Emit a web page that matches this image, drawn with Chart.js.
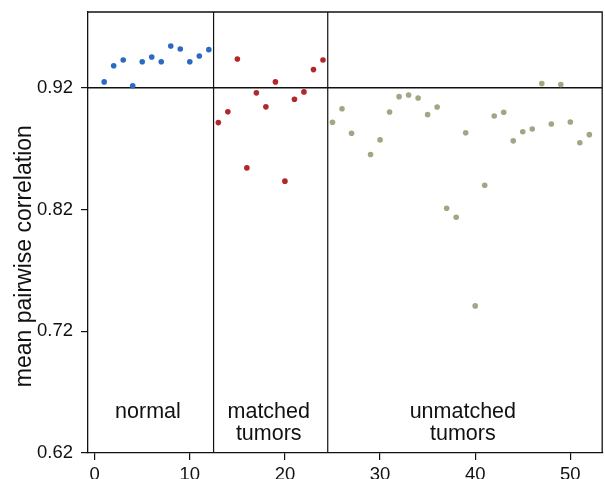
<!DOCTYPE html>
<html>
<head>
<meta charset="utf-8">
<script src="https://cdn.jsdelivr.net/npm/chart.js@4.4.1/dist/chart.umd.min.js"></script>
<style>
    html, body { margin: 0; padding: 0; background: #fff; }
    #wrap { width: 605px; height: 479px; position: relative; }
</style>
</head>
<body>
<div id="wrap"><canvas id="corrChart"></canvas></div>
<script>
// sample values (x = sample number)
var normalStart = 1;
var normalValues = [0.9247, 0.9380, 0.9427, 0.9216, 0.9413, 0.9452, 0.9413, 0.9542, 0.9517, 0.9413, 0.9460, 0.9512];

var matchedStart = 13;
var matchedValues = [0.8913, 0.9001, 0.9435, 0.8541, 0.9157, 0.9042, 0.9247, 0.8432, 0.9105, 0.9165, 0.9348, 0.9427];

var unmatchedStart = 25;
var unmatchedValues = [0.8916, 0.9027, 0.8826, null, 0.8651, 0.8771, 0.9000, 0.9126, 0.9140, 0.9115,
    0.8978, 0.9041, 0.8210, 0.8136, 0.8830, 0.7408, 0.8398, 0.8967, 0.8998, 0.8763,
    0.8838, 0.8860, 0.9233, 0.8901, 0.9225, 0.8918, 0.8748, 0.8814];

var xTicks = [0, 10, 20, 30, 40, 50];
var yTicks = [0.62, 0.72, 0.82, 0.92];
var groupBreaks = [12.5, 24.5];
var refLine = 0.92;
var groupNames = [['normal'], ['matched', 'tumors'], ['unmatched', 'tumors']];
var groupCenters = [5.6, 18.3, 38.7];
var yTitle = 'mean pairwise correlation';

function toPoints(start, values) {
    var pts = [];
    values.forEach(function (v, i) {
        if (v !== null) pts.push({ x: start + i, y: v });
    });
    return pts;
}

//-------------
//- FRAME, DIVIDERS AND GROUP LABELS -
//-------------
var framePlugin = {
    id: 'frame',
    beforeDatasetsDraw: function (chart) {
        var ctx = chart.ctx;
        var area = chart.chartArea;
        var xs = chart.scales.x;
        var ys = chart.scales.y;
        ctx.save();
        ctx.strokeStyle = '#111';

        // top and right border
        ctx.lineWidth = 1.3;
        ctx.beginPath();
        ctx.moveTo(area.left, area.top);
        ctx.lineTo(area.right, area.top);
        ctx.lineTo(area.right, area.bottom);
        ctx.stroke();

        // group dividers
        ctx.lineWidth = 1.2;
        groupBreaks.forEach(function (b) {
            var px = xs.getPixelForValue(b);
            ctx.beginPath();
            ctx.moveTo(px, area.top);
            ctx.lineTo(px, area.bottom);
            ctx.stroke();
        });

        // reference line
        ctx.lineWidth = 1.5;
        var py = ys.getPixelForValue(refLine);
        ctx.beginPath();
        ctx.moveTo(area.left, py);
        ctx.lineTo(area.right, py);
        ctx.stroke();

        // group names
        ctx.fillStyle = '#111';
        ctx.font = '21.5px "Liberation Sans", Arial, sans-serif';
        ctx.textAlign = 'center';
        ctx.textBaseline = 'alphabetic';
        var line1 = ys.getPixelForValue(0.6487);
        groupNames.forEach(function (lines, g) {
            var cx = xs.getPixelForValue(groupCenters[g]);
            lines.forEach(function (t, k) {
                ctx.fillText(t, cx, line1 + k * 21.5);
            });
        });

        // y axis title (sits a bit below the middle of the axis in the figure)
        ctx.save();
        ctx.translate(31, ys.getPixelForValue(0.7816));
        ctx.rotate(-Math.PI / 2);
        ctx.font = '23px "Liberation Sans", Arial, sans-serif';
        ctx.fillText(yTitle, 0, 0);
        ctx.restore();

        ctx.restore();
    }
};

//-------------
//- SCATTER CHART -
//-------------
var ctx = document.getElementById('corrChart').getContext('2d');

var scatterData = {
    datasets: [
        {
            label: 'normal',
            data: toPoints(normalStart, normalValues),
            backgroundColor: '#2a6ac2'
        },
        {
            label: 'matched tumors',
            data: toPoints(matchedStart, matchedValues),
            backgroundColor: '#b3272b'
        },
        {
            label: 'unmatched tumors',
            data: toPoints(unmatchedStart, unmatchedValues),
            backgroundColor: '#a2a684'
        }
    ]
};

var tickFont = { family: '"Liberation Sans", Arial, sans-serif', size: 18.5 };

new Chart(ctx, {
    type: 'scatter',
    data: scatterData,
    options: {
        responsive: true,
        maintainAspectRatio: false,
        animation: false,
        layout: { padding: { top: 12, right: 0, left: 0, bottom: 0 } },
        elements: { point: { radius: 2.8, borderWidth: 0, hoverRadius: 2.8 } },
        plugins: {
            legend: { display: false },
            tooltip: { enabled: false }
        },
        scales: {
            x: {
                type: 'linear',
                min: -0.7,
                max: 53.35,
                afterBuildTicks: function (scale) {
                    scale.ticks = xTicks.map(function (v) { return { value: v }; });
                },
                afterFit: function (scale) {
                    scale.height = 26;
                    scale.paddingLeft = 0;
                    scale.paddingRight = 0;
                },
                border: { color: '#111', width: 1.3 },
                grid: { drawOnChartArea: false, drawTicks: true, tickLength: 7, color: '#111', lineWidth: 1.2 },
                ticks: { color: '#111', font: tickFont, padding: 4, maxRotation: 0 }
            },
            y: {
                type: 'linear',
                min: 0.62,
                max: 0.9821,
                afterBuildTicks: function (scale) {
                    scale.ticks = yTicks.map(function (v) { return { value: v }; });
                },
                afterFit: function (scale) {
                    scale.width = 88;
                    scale.paddingTop = 0;
                    scale.paddingBottom = 0;
                },
                border: { color: '#111', width: 1.3 },
                grid: { drawOnChartArea: false, drawTicks: true, tickLength: 7, color: '#111', lineWidth: 1.2 },
                ticks: {
                    color: '#111', font: tickFont, padding: 8,
                    callback: function (v) { return v.toFixed(2); }
                }
            }
        }
    },
    plugins: [framePlugin]
});
</script>
</body>
</html>
